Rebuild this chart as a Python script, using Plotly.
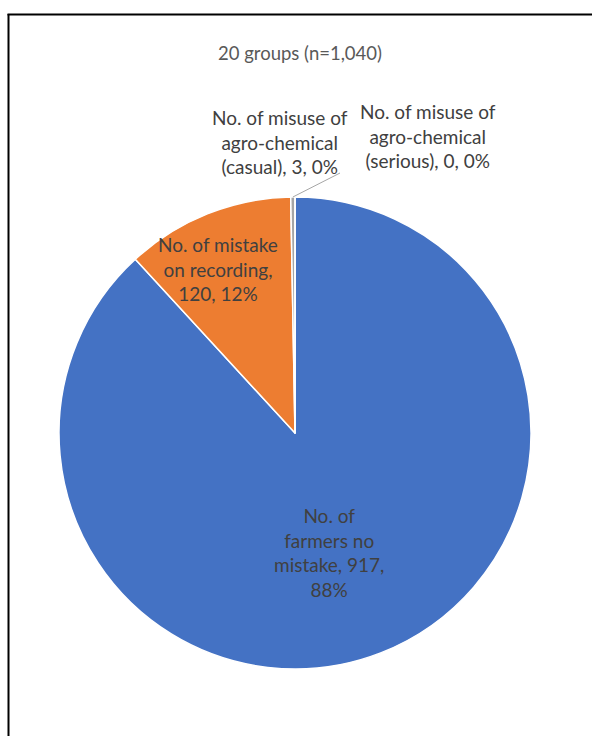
import math
import textwrap
import plotly.graph_objects as go

# Outcome categories and counts across the 20 groups
categories = [
    "No. of farmers no mistake",
    "No. of mistake on recording",
    "No. of misuse of agro-chemical (casual)",
    "No. of misuse of agro-chemical (serious)",
]
counts = [917, 120, 3, 0]
colors = ["#4472C4", "#ED7D31", "#A5A5A5", "#FFC000"]
title_text = "20 groups (n=1,040)"

W, H = 592, 736
total = sum(counts)

# Pie geometry (pixels)
cx, cy, r = 295, 433, 236

fig = go.Figure(
    go.Pie(
        labels=categories,
        values=counts,
        sort=False,
        direction="clockwise",
        rotation=0,
        marker=dict(colors=colors, line=dict(color="white", width=1.5)),
        textinfo="none",
        showlegend=False,
        domain=dict(
            x=[(cx - r) / W, (cx + r) / W],
            y=[(H - cy - r) / H, (H - cy + r) / H],
        ),
    )
)

# Data label text: "name, value, pct" wrapped like the chart's callouts
wrap_widths = [13, 14, 16, 16]
label_pos = [(329, 552), (218, 269), (280, 142), (428, 136)]
for name, val, ww, (lx, ly) in zip(categories, counts, wrap_widths, label_pos):
    txt = f"{name}, {val}, {round(100 * val / total)}%"
    lines = textwrap.wrap(txt, ww)
    fig.add_annotation(
        x=lx / W, y=1 - ly / H, xref="paper", yref="paper",
        text="<br>".join(lines), showarrow=False,
        font=dict(family="Lato", size=19, color="#404040"),
        align="center", xanchor="center", yanchor="middle",
    )

# Leader line for the small "casual" slice, from its mid-angle on the rim
start = sum(counts[:2]) / total * 360
mid = math.radians(start + counts[2] / total * 360 / 2)
px0, py0 = cx + r * math.sin(mid), cy - r * math.cos(mid)
fig.add_shape(
    type="line", xref="paper", yref="paper",
    x0=px0 / W, y0=1 - py0 / H, x1=340 / W, y1=1 - 173 / H,
    line=dict(color="#A6A6A6", width=1),
)

fig.add_annotation(
    x=300 / W, y=1 - 53 / H, xref="paper", yref="paper",
    text=title_text, showarrow=False,
    font=dict(family="Lato", size=18.5, color="#595959"),
    xanchor="center", yanchor="middle",
)

# Chart frame (left and top edges visible)
fig.add_shape(type="line", xref="paper", yref="paper",
              x0=8.5 / W, y0=1 - 14 / H, x1=8.5 / W, y1=-0.05,
              line=dict(color="#000000", width=2))
fig.add_shape(type="line", xref="paper", yref="paper",
              x0=7.5 / W, y0=1 - 14.5 / H, x1=1.05, y1=1 - 14.5 / H,
              line=dict(color="#000000", width=2))

fig.update_layout(
    width=W, height=H,
    margin=dict(l=0, r=0, t=0, b=0, pad=0),
    paper_bgcolor="white", plot_bgcolor="white",
)

fig.write_html("out.html")
